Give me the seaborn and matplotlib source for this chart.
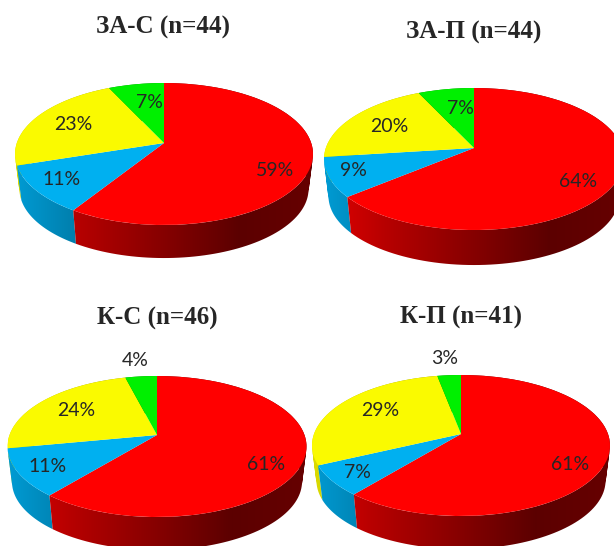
import numpy as np
import matplotlib
matplotlib.use("Agg")
from matplotlib import pyplot as plt
from matplotlib.patches import PathPatch
from matplotlib.path import Path
from matplotlib.transforms import Transform
import seaborn as sns

titles = ["ЗА-С (n=44)", "ЗА-П (n=44)", "К-С (n=46)", "К-П (n=41)"]

# red, blue, yellow, green (clockwise from 12 o'clock)
za_s = [59, 11, 23, 7]
za_p = [64, 9, 20, 7]
k_s = [61, 11, 24, 4]
k_p = [61, 7, 29, 3]
panels_values = [za_s, za_p, k_s, k_p]

colors = sns.color_palette(["#FF0000", "#00B0F0", "#FAFA00", "#00F000"])

W, H = 614, 546

# layout in pixels: apex x, apex y, half width, up to back edge, down to front edge, wall depth
geometry = [
    (164, 143, 149, 60, 82, 35.5),
    (474, 148, 150, 60, 82, 37.5),
    (157, 435, 149.5, 59, 82, 35.5),
    (461, 434, 149, 59, 82, 35.5),
]
wall_scale = 0.97  # bottom rim is a little narrower than the top one
title_pos = [(163, 27.5), (474, 32.5), (157, 318.5), (461, 317.5)]
label_pos = [
    [(275, 170), (62, 180), (73, 124), (149, 103)],
    [(578, 182), (353, 171), (389, 126), (460, 109)],
    [(266, 464), (48, 466), (76, 411), (135, 361)],
    [(570, 464), (357, 473), (380, 410), (445, 359)],
]


class TiltTransform(Transform):
    # projective map of the unit circle to the tilted ellipse of the chart
    input_dims = 2
    output_dims = 2

    def __init__(self, rx, up, down):
        super().__init__()
        self.k = (down - up) / (down + up)
        self.a = up * (1 + self.k)
        self.b = rx * np.sqrt(1 - self.k ** 2)

    def transform_non_affine(self, xy):
        xy = np.asarray(xy, dtype=float)
        d = 1 + self.k * xy[:, 1]
        return np.column_stack([self.b * xy[:, 0] / d, self.a * xy[:, 1] / d])


def shade(x):
    return np.interp(x, [-1, -0.6, 0.5, 1], [0.88, 0.72, 0.36, 0.40])


def wall_path(top, bottom):
    # union of small quads, all wound the same way so the fill has no holes
    quads = []
    for m in range(len(top) - 1):
        q = np.array([top[m], top[m + 1], bottom[m + 1], bottom[m]])
        area = np.sum(q[:, 0] * np.roll(q[:, 1], -1) - np.roll(q[:, 0], -1) * q[:, 1])
        if area < 0:
            q = q[::-1]
        quads.append(Path(np.vstack([q, q[:1]]), closed=True))
    return Path.make_compound_path(*quads)


sns.set_theme(style="white")
fig = plt.figure(figsize=(W / 100, H / 100), dpi=100, facecolor="white")

for i, values in enumerate(panels_values):
    cx, cy, rx, up, down, depth = geometry[i]
    ax = fig.add_axes([0, 0, 1, 1], facecolor="none")
    tilt = TiltTransform(rx, up, down)

    # side wall of each slice: a gradient image clipped to the area under its arc
    edges = np.cumsum([0] + values) / 100 * 2 * np.pi
    xs = np.linspace(-1, 1, 256)
    for j in reversed(range(len(values))):
        t = np.linspace(edges[j], edges[j + 1], 120)
        top = tilt.transform_non_affine(np.column_stack([np.sin(t), np.cos(t)]))
        bottom = top * wall_scale - [0, depth]
        clip = PathPatch(wall_path(top, bottom), transform=ax.transData)
        grad = shade(xs)[None, :, None] * np.array(colors[j])[None, None, :]
        im = ax.imshow(grad, extent=(-rx, rx, -down - depth - 5, up + 5), aspect="auto",
                       interpolation="bilinear", zorder=1)
        im.set_clip_path(clip)

    # top face
    wedges, _ = ax.pie(values, colors=colors, startangle=90, counterclock=False,
                       wedgeprops={"linewidth": 0})
    for w in wedges:
        w.set_transform(tilt + ax.transData)
        w.set_zorder(2)

    ax.set_aspect("auto")
    ax.set_xlim(-cx, W - cx)
    ax.set_ylim(-(H - cy), cy)
    ax.axis("off")

    for v, (lx, ly) in zip(values, label_pos[i]):
        fig.text(lx / W, 1 - ly / H, f"{v}%", ha="center", va="center",
                 family="Lato", fontsize=14, color="#262626", zorder=5)

    tx, ty = title_pos[i]
    fig.text(tx / W, 1 - ty / H, titles[i], ha="center", va="center",
             family="Liberation Serif", fontweight="bold", fontsize=18, color="#262626")

fig.savefig("out.png", dpi=100)
